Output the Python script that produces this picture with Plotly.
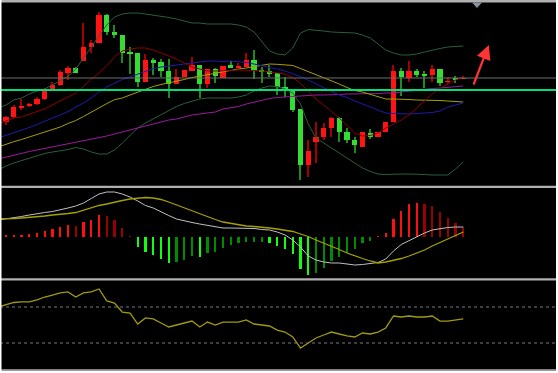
import plotly.graph_objects as go

W, H = 558, 373

# ---------------- data ----------------
idx = list(range(60))            # candle index
line_idx = list(range(-1, 60))   # indicator index (starts one bar earlier, off-screen)

open_ = [78, 83, 92, 94, 96, 101, 111, 115, 127, 132,
         139, 153, 157, 185, 168, 165, 148, 147, 118, 140,
         138, 129, 116, 123, 129, 135, 116, 131, 122, 135,
         132, 133, 140, 130, 129, 127, 113, 109, 91, 35,
         58, 63, 72, 82, 68, 60, 53, 67, 63, 68,
         78, 129, 122, 129, 126, 125, 131, 118, 122, 121]
high = [84, 95, 101, 97, 103, 112, 118, 130, 134, 133,
        177, 160, 188, 186, 175, 165, 153, 147, 146, 142,
        141, 141, 131, 130, 143, 135, 131, 132, 134, 139,
        137, 147, 150, 133, 135, 127, 123, 109, 91, 60,
        78, 77, 83, 83, 72, 63, 68, 71, 68, 78,
        135, 132, 139, 131, 129, 135, 131, 123, 124, 124]
low = [75, 82, 90, 93, 95, 100, 110, 114, 120, 127,
       139, 147, 157, 165, 162, 137, 126, 113, 118, 125,
       123, 102, 116, 123, 129, 102, 112, 117, 122, 132,
       132, 133, 121, 117, 123, 105, 103, 88, 20, 23,
       37, 60, 63, 58, 57, 47, 53, 61, 63, 68,
       78, 104, 118, 123, 112, 118, 114, 116, 117, 121]
close = [83, 93, 94, 96, 101, 111, 115, 128, 132, 127,
         153, 157, 185, 168, 165, 147, 146, 118, 140, 137,
         129, 116, 123, 130, 135, 116, 131, 124, 134, 132,
         134, 140, 129, 128, 126, 113, 109, 90, 35, 49,
         63, 72, 82, 68, 60, 55, 68, 63, 68, 78,
         129, 123, 129, 125, 124, 131, 117, 119, 120, 122]

bb_upper = [92, 95, 100, 102, 106, 109, 111, 115, 119, 123.5,
            131, 142, 152, 163, 175, 183, 186, 187, 187, 186,
            185, 183.5, 182.5, 181, 179, 177, 177, 176, 176, 176,
            176, 175, 173, 168, 158, 149, 146, 145, 152, 167,
            170.5, 170, 169, 168, 167.5, 167, 167, 165, 162, 156,
            150, 147, 145, 145, 146, 148, 150, 151.5, 153, 153.5, 154]
bb_lower = [30, 34, 37, 39.5, 42, 44.5, 46.5, 48, 49, 50.5,
            52.5, 51, 48, 46, 46, 50, 57, 65, 72, 77,
            81, 85, 89, 93.5, 96.5, 99, 101, 102, 102, 102,
            102, 103, 105, 109, 112, 114, 113.5, 111, 107, 96,
            76, 62, 57, 52, 47, 42, 37, 32, 28.5, 26,
            25.5, 26, 26, 26, 26, 25.5, 25, 25, 25, 31, 38]
ma_fast = [76, 79, 82, 83, 86, 88.5, 91, 95, 99, 103,
           107, 113.5, 121, 127, 134, 143, 149, 151, 152, 152,
           150, 147, 144, 141, 137, 133, 131, 129, 129, 129,
           129.5, 130, 130, 129.5, 129, 128, 127, 126, 122.5, 116.5,
           109, 101, 95, 88.5, 82, 74.5, 67, 64, 64.5, 67,
           72, 76, 80, 85, 92, 100, 106, 112, 116, 120, 123]
ma_mid = [62, 64.5, 67, 69.5, 72.5, 75.5, 79, 82, 85, 88.5,
          93, 97, 102, 108, 113, 117, 120.5, 123, 126, 129,
          131.5, 133, 134, 135, 136.5, 137.5, 138, 139, 139, 138.5,
          139, 138.5, 137.5, 136, 134.5, 133, 131, 129, 126.5, 123.5,
          120, 116, 112, 108.5, 105, 102.5, 99, 96, 93, 90,
          87, 86.5, 86, 86, 86.5, 87, 87.5, 89, 93, 95, 97]
ma_slow = [53, 56, 58.3, 60.5, 63, 66, 68.5, 70.7, 73, 76.5,
           79.5, 83.5, 88, 92.4, 96.4, 100.3, 102, 105, 108, 110.5,
           113.5, 115.5, 117, 118.5, 120.5, 122.5, 124, 125.5, 127, 128,
           129.5, 131, 132, 133.5, 134.5, 136, 135.7, 135.3, 134.5, 131.5,
           128.5, 125.5, 122.5, 119.5, 116, 112.5, 109.5, 108, 105.5, 103,
           101, 101, 101, 100.5, 100, 100, 100, 99.5, 99, 98.5, 98]
ma_long = [41, 43, 45, 47, 48.5, 50, 51.5, 53, 54.5, 56,
           57.5, 59, 61, 62.5, 64, 66, 68, 70, 72.5, 74,
           76.5, 78, 80, 81, 83, 85, 86, 87, 88, 91,
           92, 93.5, 96, 98, 100, 101.5, 102.5, 103, 104, 104.5,
           105, 105, 105, 105, 105.5, 106, 106, 106, 106, 106.5,
           107, 107, 108, 109, 110, 111, 111.5, 112, 112.5, 113, 114]

level_gray = 122
level_green = 110

macd_line = [17, 18, 19, 20.5, 22, 23.5, 24.5, 25.5, 27, 29,
             31, 34, 38.5, 43, 45, 45, 43, 40, 36, 31.5,
             29, 25, 21.5, 18, 16, 14.5, 13, 11.5, 10, 9,
             9, 9, 9, 8.5, 7.5, 7, 5, 2, -3, -10,
             -19, -23, -25, -26, -26, -27, -28, -27.5, -26.5, -25.5,
             -22, -14, -7.5, -3.5, 0, 4, 7, 8.5, 9.5, 10, 10]
macd_signal = [18, 18, 18.5, 19, 19.5, 20, 21, 22, 22.5, 23.5,
               24.5, 27, 29.5, 31.5, 33, 35, 36.5, 38, 39, 39.5,
               39, 37.5, 35, 32, 29, 26, 23, 20, 17.5, 15,
               13.5, 12, 11, 10.5, 10, 9, 8, 7, 5.5, 3,
               0.5, -3, -6, -9.5, -12.5, -16, -19, -21.5, -24, -26,
               -25, -23.5, -21.5, -19, -16, -13, -9, -5.5, -2, 2, 5]
macd_hist = [1.5, 2, 2.5, 3, 4, 6, 8, 10, 12, 11,
             15, 17, 22, 21, 17, 9, 1, -10, -15, -18,
             -22, -26, -25, -23, -19, -20, -16, -15, -11, -8,
             -6, -5, -5, -5, -6, -9, -12, -17, -32, -38,
             -36, -31, -24, -20, -16, -12, -6, -4, 0.5, 4,
             18, 26, 33, 34, 33, 31, 25, 19, 14, 10]

rsi = [70, 72.2, 75.0, 75.6, 75.6, 77.8, 81.1, 83.3, 85.6, 86.7,
       81.1, 85.6, 86.7, 90.0, 76.7, 74.4, 64.4, 63.3, 51.1, 57.8,
       56.7, 52.2, 47.8, 50.0, 52.2, 54.4, 47.8, 53.3, 50.0, 53.3,
       53.3, 53.3, 55.6, 51.1, 50.0, 48.9, 44.4, 42.2, 36.7, 24.4,
       30.0, 35.6, 38.9, 42.2, 40.0, 37.8, 36.7, 41.1, 40.0, 42.2,
       46.7, 60.0, 58.9, 60.0, 58.9, 58.9, 60.0, 54.4, 54.4, 55.6, 56.7]
rsi_levels = [70, 30]

arrow_tail = (60.26, 114)
arrow_head = (62.3, 155)

# ---------------- styling helpers ----------------
BAR_PX = 7.75     # pixels per bar
FIRST_PX = 6      # pixel x of first bar


def py(pix):
    """pixel row -> paper fraction"""
    return 1 - pix / H


fig = go.Figure()

# candles: wicks (thin bars) then bodies
up = [i for i in idx if close[i] >= open_[i]]
dn = [i for i in idx if close[i] < open_[i]]
for sel, wick_col, body_col in ((up, '#a30000', '#ff1414'), (dn, '#1f8a1f', '#33dd33')):
    fig.add_trace(go.Bar(x=sel, y=[high[i] - low[i] for i in sel], base=[low[i] for i in sel],
                         width=0.14, marker=dict(color=wick_col, line=dict(width=0)),
                         xaxis='x', yaxis='y', hoverinfo='skip'))
for sel, wick_col, body_col in ((up, '#a30000', '#ff1414'), (dn, '#1f8a1f', '#33dd33')):
    fig.add_trace(go.Bar(x=sel, y=[max(abs(close[i] - open_[i]), 1) for i in sel],
                         base=[min(open_[i], close[i]) for i in sel],
                         width=0.66, marker=dict(color=body_col, line=dict(width=0)),
                         xaxis='x', yaxis='y', hoverinfo='skip'))

# main panel indicator lines
for ys, col, w in ((bb_upper, '#2b5e3d', 1), (bb_lower, '#2b5e3d', 1),
                   (ma_long, '#9c1a9c', 1), (ma_slow, '#a8a000', 1),
                   (ma_mid, '#1c1cac', 1), (ma_fast, '#8e0000', 1)):
    fig.add_trace(go.Scatter(x=line_idx, y=ys, mode='lines', line=dict(color=col, width=w),
                             xaxis='x', yaxis='y', hoverinfo='skip'))

# MACD histogram
hist_cols = []
for i, v in enumerate(macd_hist):
    prev = macd_hist[i - 1] if i > 0 else 0
    if v >= 0:
        hist_cols.append('#ff1010' if v > prev else '#990000')
    else:
        hist_cols.append('#10ff10' if v < prev else '#008c00')
fig.add_trace(go.Bar(x=idx, y=macd_hist, width=0.28,
                     marker=dict(color=hist_cols, line=dict(width=0)),
                     xaxis='x', yaxis='y2', hoverinfo='skip'))
fig.add_trace(go.Scatter(x=line_idx, y=macd_line, mode='lines', line=dict(color='#c0c0c0', width=1),
                         xaxis='x', yaxis='y2', hoverinfo='skip'))
fig.add_trace(go.Scatter(x=line_idx, y=macd_signal, mode='lines', line=dict(color='#a6a000', width=1.3),
                         xaxis='x', yaxis='y2', hoverinfo='skip'))

# RSI
fig.add_trace(go.Scatter(x=line_idx, y=rsi, mode='lines', line=dict(color='#a09a10', width=1.3),
                         xaxis='x', yaxis='y3', hoverinfo='skip'))

x_lo = (0 - FIRST_PX) / BAR_PX
x_hi = (W - FIRST_PX) / BAR_PX

shapes = []
# price levels
shapes.append(dict(type='line', xref='paper', yref='y', x0=0, x1=1, y0=level_gray, y1=level_gray,
                   line=dict(color='#6e6e6e', width=1)))
shapes.append(dict(type='line', xref='paper', yref='y', x0=0, x1=1, y0=level_green, y1=level_green,
                   line=dict(color='#00e07a', width=2)))
# RSI levels
for lv in rsi_levels:
    shapes.append(dict(type='line', xref='paper', yref='y3', x0=0, x1=1, y0=lv, y1=lv,
                       line=dict(color='#7a7a7a', width=1, dash='dot')))


def prect(x0, x1, y0, y1, col):
    return dict(type='rect', xref='paper', yref='paper', x0=x0 / W, x1=x1 / W,
                y0=py(y1), y1=py(y0), fillcolor=col, line=dict(width=0), layer='above')


shapes += [
    prect(0, W, 0, 2.6, '#b0b0b0'),
    prect(0, W, 185.8, 188, '#b0b0b0'),
    prect(0, W, 278.3, 280.4, '#b0b0b0'),
    prect(0, W, 369.3, 370.8, '#a8a8a8'),
    prect(0, W, 370.8, H, '#ffffff'),
    prect(0, 1.5, 0, H, '#ffffff'),
    prect(556, W, 0, H, '#ffffff'),
]
# small scroll marker at the top
shapes.append(dict(type='path', xref='paper', yref='paper',
                   path=f"M {472/W},{py(2.6)} L {482/W},{py(2.6)} L {477/W},{py(8)} Z",
                   fillcolor='#8592a0', line=dict(width=0)))

fig.update_layout(
    width=W, height=H, margin=dict(l=0, r=0, t=0, b=0),
    paper_bgcolor='black', plot_bgcolor='black',
    showlegend=False, barmode='overlay', bargap=0,
    xaxis=dict(range=[x_lo, x_hi], visible=False, domain=[0, 1]),
    yaxis=dict(domain=[py(185), py(3)], range=[200 - 185, 200 - 3], visible=False),
    yaxis2=dict(domain=[py(278), py(188)], range=[237 - 278, 237 - 188], visible=False),
    yaxis3=dict(domain=[py(370), py(280)], range=[0, 100], visible=False),
    shapes=shapes,
)

fig.add_annotation(x=arrow_head[0], y=arrow_head[1], ax=arrow_tail[0], ay=arrow_tail[1],
                   xref='x', yref='y', axref='x', ayref='y', text='', showarrow=True,
                   arrowhead=2, arrowsize=1.3, arrowwidth=2.2, arrowcolor='#ff3434')

fig.write_html("out.html", config={'displayModeBar': False},
               post_script="document.body.style.margin='0';document.body.style.overflow='hidden';")
